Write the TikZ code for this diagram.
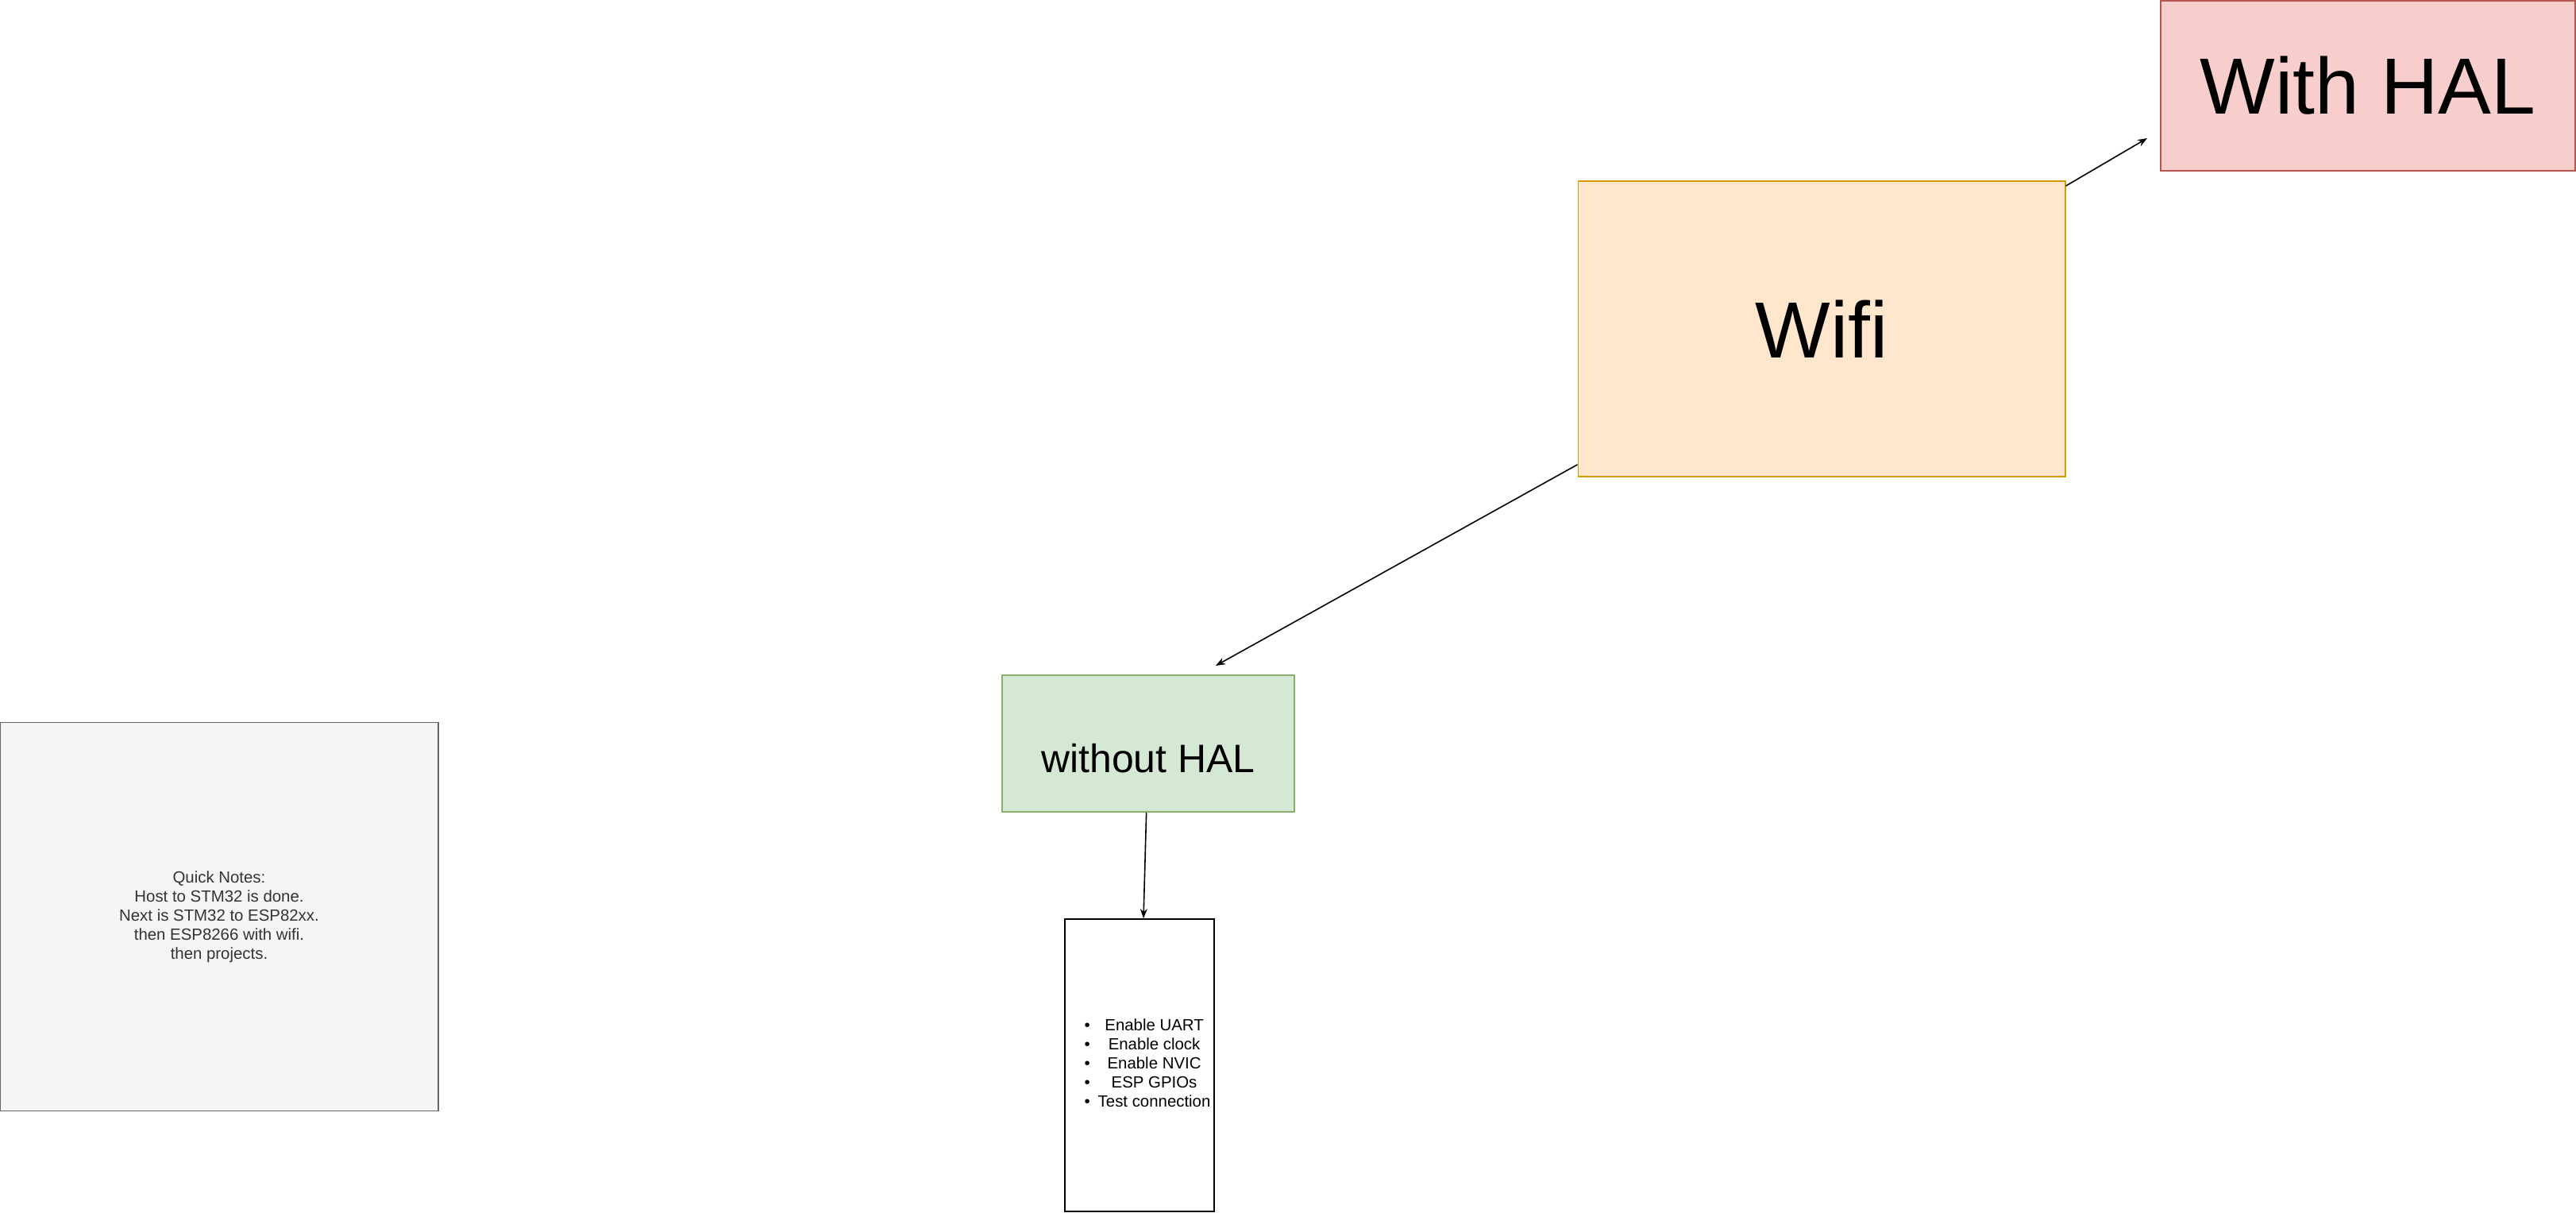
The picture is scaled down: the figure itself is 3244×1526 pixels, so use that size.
\documentclass[tikz,border=0pt]{standalone}
\usepackage{fontspec}
\setmainfont{Liberation Sans}
\usetikzlibrary{arrows.meta,positioning}

\definecolor{halfill}{HTML}{F8CECC}
\definecolor{halline}{HTML}{B85450}
\definecolor{wififill}{HTML}{FFE6CC}
\definecolor{wifiline}{HTML}{D79B00}
\definecolor{nohalfill}{HTML}{D5E8D4}
\definecolor{nohalline}{HTML}{82B366}
\definecolor{notefill}{HTML}{F5F5F5}
\definecolor{noteline}{HTML}{666666}
\definecolor{notetext}{HTML}{333333}

\begin{document}
\begin{tikzpicture}[
  x=0.01cm, y=-0.01cm,
  box/.style={rectangle, draw, line width=0.016cm, inner sep=0pt,
              align=center, text=black},
  bigbox/.style={box, font=\fontsize{28.5}{34}\selectfont},
  smalltext/.style={font=\fontsize{5.8}{6.83}\selectfont},
  arrow/.style={-{Stealth[length=0.12cm, width=0.09cm]}, line width=0.016cm}
]
  \useasboundingbox (0,0) rectangle (3244,1526);

  \node[bigbox, fill=halfill, draw=halline, minimum width=5.22cm,
        minimum height=2.14cm] (withhal) at (2982,108) {With HAL};
  \node[bigbox, fill=wififill, draw=wifiline, minimum width=6.13cm,
        minimum height=3.72cm] (wifi) at (2294,414) {Wifi};
  \node[box, fill=nohalfill, draw=nohalline, minimum width=3.68cm,
        minimum height=1.72cm, font=\fontsize{14.2}{17}\selectfont,
        text height=20.6pt, text depth=0pt] (nohal) at (1446,936) {without HAL};
  \node[box, fill=white, smalltext, minimum width=1.88cm,
        minimum height=3.68cm] (tasks) at (1435,1341)
    {\begin{tabular}{@{\hspace{0.2cm}}c@{\hspace{0.1cm}}c@{}}
       \textbullet & Enable UART\\
       \textbullet & Enable clock\\
       \textbullet & Enable NVIC\\
       \textbullet & ESP GPIOs\\
       \textbullet & Test connection
     \end{tabular}};
  \node[box, fill=notefill, draw=noteline, text=notetext, smalltext,
        minimum width=5.52cm, minimum height=4.89cm] (notes) at (276,1154)
    {Quick Notes:\\Host to STM32 is done.\\Next is STM32 to ESP82xx.\\
     then ESP8266 with wifi.\\then projects.};

  \coordinate (haltip) at (2704,174);
  \coordinate (nohaltip) at (1531,838);

  \draw[arrow] (wifi) -- (haltip);
  \draw[arrow] (wifi) -- (nohaltip);
  \draw[arrow] (nohal) -- (tasks);
\end{tikzpicture}
\end{document}
